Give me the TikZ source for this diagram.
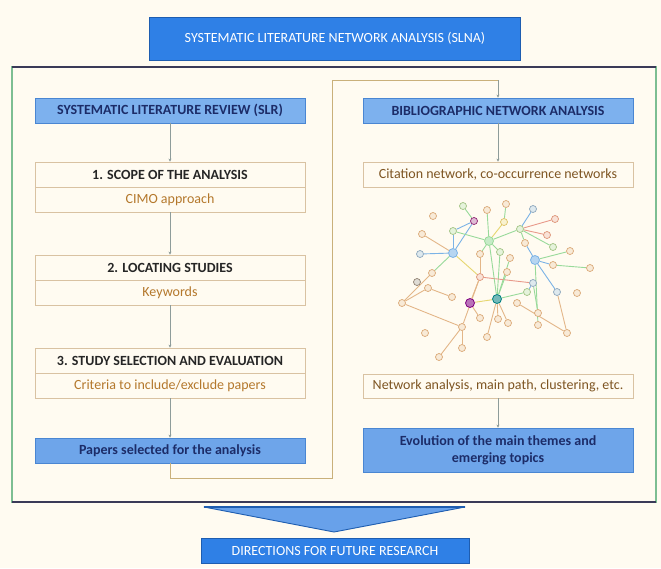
\documentclass[tikz,border=0pt]{standalone}
\usepackage{fontspec}
\setmainfont{Carlito}
\usetikzlibrary{arrows.meta}

\definecolor{paper}{HTML}{FFFBF1}
\definecolor{titleblue}{HTML}{2F80E6}
\definecolor{titleedge}{HTML}{1E5DB0}
\definecolor{headblue}{HTML}{7DB1EE}
\definecolor{headedge}{HTML}{4A86D2}
\definecolor{resblue}{HTML}{6EA5EA}
\definecolor{navy}{HTML}{1C2C68}
\definecolor{tanedge}{HTML}{D9C2A2}
\definecolor{subtext}{HTML}{B4782C}
\definecolor{nettext}{HTML}{7E5522}
\definecolor{steptext}{HTML}{262626}
\definecolor{flowgrey}{HTML}{8E9C9A}
\definecolor{loopline}{HTML}{C9B07A}
\definecolor{framegreen}{HTML}{7DBE92}
\definecolor{framedark}{HTML}{3A3A58}
\definecolor{eor}{HTML}{E3B688}
\definecolor{egr}{HTML}{98DA9A}
\definecolor{ebl}{HTML}{7BB3E6}
\definecolor{eye}{HTML}{E6D66E}
\definecolor{ere}{HTML}{E8998A}

\pgfdeclarelayer{ground}
\pgfdeclarelayer{links}
\pgfsetlayers{ground,links,main}

\tikzset{
  capsbox/.style={draw=titleedge, line width=1pt, fill=titleblue, text=white,
    font=\fontsize{14}{16}\selectfont, align=center, inner sep=0pt},
  headbox/.style={draw=headedge, line width=0.8pt, fill=headblue, text=navy,
    font=\bfseries\fontsize{14}{16}\selectfont, minimum width=270pt,
    minimum height=25pt, inner sep=0pt},
  resultbox/.style={draw=headedge, line width=0.8pt, fill=resblue, text=navy,
    font=\bfseries\fontsize{14}{17}\selectfont, minimum width=270pt,
    inner sep=0pt, align=center},
  stephead/.style={draw=tanedge, line width=0.8pt, fill=paper, text=steptext,
    font=\bfseries\fontsize{14}{16}\selectfont, minimum width=270pt,
    minimum height=25pt, inner sep=0pt},
  stepbody/.style={draw=tanedge, line width=0.8pt, fill=paper, text=subtext,
    font=\fontsize{14}{16}\selectfont, minimum width=270pt,
    minimum height=25pt, inner sep=0pt},
  netbox/.style={draw=tanedge, line width=0.8pt, fill=paper, text=nettext,
    font=\fontsize{14}{16}\selectfont, minimum width=270pt,
    minimum height=25pt, inner sep=0pt},
  flow/.style={draw=flowgrey, line width=0.8pt,
    -{Stealth[length=3pt,width=3pt]}},
  nd/.style={circle, draw=#1!75!brown, fill=#1!25!paper, line width=0.7pt,
    minimum size=7pt, inner sep=0pt},
  nd/.default=eor,
  hub/.style={circle, draw=#1, fill=#1!55!white, line width=0.8pt,
    minimum size=9pt, inner sep=0pt},
  lk/.style={draw=#1, line width=0.9pt},
  lk/.default=eor
}

\begin{document}
\begin{tikzpicture}[x=1pt, y=-1pt]
  % page
  \begin{pgfonlayer}{ground}
    \fill[paper] (0,0) rectangle (661,568);
  \end{pgfonlayer}
  \useasboundingbox (0,0) rectangle (661,568);

  % outer frame around both columns
  \draw[framegreen, line width=1.3pt] (12,67) rectangle (656,502);
  \draw[framedark, line width=1.3pt] (12,67) -- (656,67);
  \draw[framedark, line width=1.3pt] (12,502) -- (656,502);

  % title
  \node[capsbox, minimum width=371pt, minimum height=43pt] (title) at (335,38.5)
    {SYSTEMATIC LITERATURE NETWORK ANALYSIS (SLNA)};

  % left column: systematic literature review
  \node[headbox] (slr) at (170,110.5) {SYSTEMATIC LITERATURE REVIEW (SLR)};
  \node[stephead] (s1h) at (170,174.5) {1. SCOPE OF THE ANALYSIS};
  \node[stepbody] (s1b) at (170,199.5) {CIMO approach};
  \node[stephead] (s2h) at (170,267.5) {2. LOCATING STUDIES};
  \node[stepbody] (s2b) at (170,292.5) {Keywords};
  \node[stephead] (s3h) at (170,360.5) {3. STUDY SELECTION AND EVALUATION};
  \node[stepbody] (s3b) at (170,385.5) {Criteria to include/exclude papers};
  \node[resultbox, minimum height=25pt] (pap) at (170,450.5)
    {Papers selected for the analysis};

  \draw[flow] (slr) -- (s1h);
  \draw[flow] (s1b) -- (s2h);
  \draw[flow] (s2b) -- (s3h);
  \draw[flow] (s3b) -- (pap);

  % right column: bibliographic network analysis
  \node[headbox] (bna) at (498,110.5) {BIBLIOGRAPHIC NETWORK ANALYSIS};
  \node[netbox] (cit) at (498,174.5) {Citation network, co-occurrence networks};
  \node[netbox, minimum height=24pt] (nan) at (498,386)
    {Network analysis, main path, clustering, etc.};
  \node[resultbox, minimum height=44pt] (evo) at (498,450)
    {Evolution of the main themes and\\emerging topics};

  \draw[flow] (bna) -- (cit);
  \draw[flow] (nan) -- (evo);

  % hand-over from the selected papers to the network analysis
  \coordinate (l1) at (170,478);
  \coordinate (l2) at (332,478);
  \coordinate (l3) at (332,80);
  \coordinate (l4) at (498,80);
  \draw[loopline, line width=0.9pt] (pap.south) -- (l1) -- (l2) -- (l3) -- (l4);
  \draw[flow] (l4) -- (bna.north);

  % citation network sketch: nodes
  \node[nd] (a1) at (433,216) {};
  \node[nd=egr] (a2) at (463,206) {};
  \node[nd] (a3) at (487,210) {};
  \node[nd] (a4) at (506,204) {};
  \node[nd=ebl] (a5) at (533,209) {};
  \node[nd=ere] (a6) at (555,219) {};
  \node[nd=violet] (a7) at (474,221) {};
  \node[nd=eye] (a8) at (504,222) {};
  \node[nd=egr] (a9) at (453,231) {};
  \node[hub=egr] (a10) at (489,241) {};
  \node[nd=egr] (a11) at (520,229) {};
  \node[nd=ere] (a12) at (547,235) {};
  \node[nd] (a13) at (422,234) {};
  \node[nd] (a14) at (525,243) {};
  \node[nd=egr] (a15) at (553,247) {};
  \node[nd] (a16) at (570,251) {};
  \node[nd=ebl] (a17) at (420,254) {};
  \node[hub=ebl] (a18) at (453,253) {};
  \node[nd] (a19) at (480,254) {};
  \node[nd=egr] (a20) at (500,252) {};
  \node[nd] (a21) at (510,258) {};
  \node[hub=ebl] (a22) at (535,260) {};
  \node[nd] (a23) at (590,268) {};
  \node[nd] (a24) at (553,265) {};
  \node[nd] (a25) at (507,272) {};
  \node[nd] (b1) at (432,273) {};
  \node[nd=gray] (b2) at (417,282) {};
  \node[nd=ere] (b3) at (480,277) {};
  \node[nd=ebl] (b4) at (533,283) {};
  \node[nd=ebl] (b5) at (557,292) {};
  \node[nd] (b6) at (577,293) {};
  \node[nd] (b7) at (402,303) {};
  \node[nd] (b8) at (428,288) {};
  \node[nd] (b9) at (452,297) {};
  \node[hub=violet] (b10) at (470,303) {};
  \node[hub=teal] (b11) at (497,299) {};
  \node[nd] (b12) at (517,303) {};
  \node[nd=egr] (b13) at (527,292) {};
  \node[nd] (b14) at (480,318) {};
  \node[nd] (b15) at (498,319) {};
  \node[nd] (b16) at (508,323) {};
  \node[nd] (b17) at (538,313) {};
  \node[nd] (b18) at (538,325) {};
  \node[nd] (b19) at (462,327) {};
  \node[nd] (b20) at (425,333) {};
  \node[nd] (b21) at (567,333) {};
  \node[nd] (b22) at (487,337) {};
  \node[nd] (b23) at (462,348) {};
  \node[nd] (b24) at (439,357) {};

  % citation network sketch: links, kept under the nodes
  \begin{pgfonlayer}{links}
    \draw[lk=egr] (a2) -- (a7);
    \draw[lk=ebl] (a7) -- (a9);
    \draw[lk=ebl] (a7) -- (a18);
    \draw[lk=egr] (a3) -- (a10);
    \draw[lk=egr] (a4) -- (a8);
    \draw[lk=eye] (a8) -- (a10);
    \draw[lk=ebl] (a5) -- (a11);
    \draw[lk=ere] (a6) -- (a11);
    \draw[lk=ere] (a12) -- (a11);
    \draw[lk=egr] (a9) -- (a10);
    \draw[lk=ebl] (a9) -- (a18);
    \draw[lk] (a13) -- (a18);
    \draw[lk=ebl] (a17) -- (a18);
    \draw[lk=egr] (a10) -- (a11);
    \draw[lk=egr] (a10) -- (a20);
    \draw[lk=egr] (a10) -- (a19);
    \draw[lk=egr] (a11) -- (a14);
    \draw[lk=ebl] (a14) -- (a22);
    \draw[lk=ebl] (a22) -- (a24);
    \draw[lk=egr] (a22) -- (a16);
    \draw[lk=egr] (a23) -- (a24);
    \draw[lk=egr] (a15) -- (a11);
    \draw[lk=ebl] (a22) -- (b5);
    \draw[lk=egr] (a20) -- (b11);
    \draw[lk=egr] (a21) -- (b11);
    \draw[lk=eye] (a18) -- (b3);
    \draw[lk] (a19) -- (b3);
    \draw[lk=ere] (b3) -- (b4);
    \draw[lk] (b3) -- (b10);
    \draw[lk] (b1) -- (b7);
    \draw[lk=egr] (b1) -- (a18);
    \draw[lk] (b7) -- (b19);
    \draw[lk] (b19) -- (b3);
    \draw[lk] (b19) -- (b24);
    \draw[lk] (b19) -- (b23);
    \draw[lk] (b11) -- (b22);
    \draw[lk] (b11) -- (b15);
    \draw[lk=egr] (b11) -- (b13);
    \draw[lk=eye] (b11) -- (b10);
    \draw[lk] (b8) -- (b9);
    \draw[lk] (b12) -- (b21);
    \draw[lk] (b5) -- (b21);
    \draw[lk=egr] (b17) -- (b4);
    \draw[lk=ebl] (b13) -- (b4);
    \draw[lk=egr] (a22) -- (b18);
    \draw[lk] (b10) -- (b14);
    \draw[lk] (b11) -- (b16);
    \draw[lk=egr] (a25) -- (b11);
    \draw[lk] (b7) -- (b8);
    \draw[lk=egr] (a10) -- (b11);
  \end{pgfonlayer}

  % outcome
  \coordinate (cl) at (204,507);
  \coordinate (cr) at (465,507);
  \coordinate (ct) at (334,532);
  \draw[titleedge, fill=resblue!90!titleblue, line width=0.9pt, line join=round]
    (cl) -- (cr) -- (ct) -- cycle;
  \draw[titleedge, line width=2pt] (cl) -- (cr);
  \node[capsbox, minimum width=268pt, minimum height=25pt] (dir) at (335,550.5)
    {DIRECTIONS FOR FUTURE RESEARCH};
\end{tikzpicture}
\end{document}
